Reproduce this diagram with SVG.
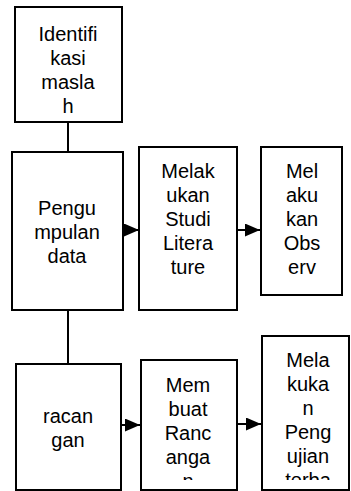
<svg xmlns="http://www.w3.org/2000/svg" width="351" height="491" viewBox="0 0 351 491">
<style>
.box{fill:#fff;stroke:#000;stroke-width:2}
.t{font-family:"Liberation Sans",Arial,sans-serif;font-size:20px;fill:#000;text-anchor:middle}
.c{stroke:#000;stroke-width:2;fill:none}
</style>
<defs>
<marker id="ah" markerWidth="15" markerHeight="13" refX="15" refY="6.5" orient="auto" markerUnits="userSpaceOnUse">
<path d="M0,0 L15,6.5 L0,13 Z" fill="#000"/>
</marker>
<clipPath id="c6"><rect x="141" y="360" width="96" height="120"/></clipPath>
<clipPath id="c7"><rect x="262" y="336" width="87" height="144"/></clipPath>
</defs>
<g id="connectors">
<line class="c" x1="68" y1="122" x2="68" y2="152"/>
<line class="c" x1="68" y1="310" x2="68" y2="364"/>
<line class="c" x1="122" y1="230" x2="139" y2="230" marker-end="url(#ah)"/>
<line class="c" x1="237" y1="230" x2="260" y2="230" marker-end="url(#ah)"/>
<line class="c" x1="121" y1="425" x2="140" y2="425" marker-end="url(#ah)"/>
<line class="c" x1="237" y1="424" x2="261" y2="424" marker-end="url(#ah)"/>
</g>
<g id="n1">
<rect class="box" x="15" y="7" width="107" height="115"/>
<text class="t" x="68" y="41">Identifi</text>
<text class="t" x="68" y="65">kasi</text>
<text class="t" x="68" y="89">masla</text>
<text class="t" x="68" y="113">h</text>
</g>
<g id="n2">
<rect class="box" x="12" y="152" width="111" height="158"/>
<text class="t" x="67" y="215">Pengu</text>
<text class="t" x="67" y="239">mpulan</text>
<text class="t" x="67" y="263">data</text>
</g>
<g id="n3">
<rect class="box" x="139" y="147" width="98" height="163"/>
<text class="t" x="188" y="178">Melak</text>
<text class="t" x="188" y="202">ukan</text>
<text class="t" x="188" y="226">Studi</text>
<text class="t" x="188" y="250">Litera</text>
<text class="t" x="188" y="274">ture</text>
</g>
<g id="n4">
<rect class="box" x="261" y="147" width="81" height="148"/>
<text class="t" x="302" y="178">Mel</text>
<text class="t" x="302" y="202">aku</text>
<text class="t" x="302" y="226">kan</text>
<text class="t" x="302" y="250">Obs</text>
<text class="t" x="302" y="274">erv</text>
</g>
<g id="n5">
<rect class="box" x="16" y="364" width="105" height="126"/>
<text class="t" x="68" y="423">racan</text>
<text class="t" x="68" y="447">gan</text>
</g>
<g id="n6">
<rect class="box" x="141" y="360" width="96" height="130"/>
<g clip-path="url(#c6)">
<text class="t" x="188" y="392">Mem</text>
<text class="t" x="188" y="416">buat</text>
<text class="t" x="188" y="440">Ranc</text>
<text class="t" x="188" y="464">anga</text>
<text class="t" x="188" y="488">n</text>
</g>
</g>
<g id="n7">
<rect class="box" x="262" y="336" width="87" height="154"/>
<g clip-path="url(#c7)">
<text class="t" x="308" y="367">Mela</text>
<text class="t" x="308" y="391">kuka</text>
<text class="t" x="308" y="415">n</text>
<text class="t" x="308" y="439">Peng</text>
<text class="t" x="308" y="463">ujian</text>
<text class="t" x="308" y="487">terba</text>
</g>
</g>
</svg>
